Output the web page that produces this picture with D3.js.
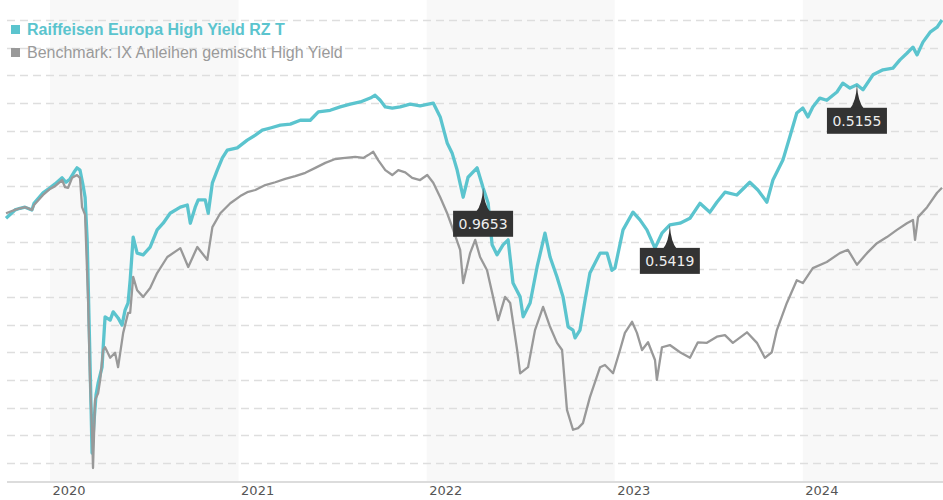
<!DOCTYPE html>
<html>
<head>
<meta charset="utf-8">
<script src="https://cdn.jsdelivr.net/npm/d3@7"></script>
<style>
  body { margin: 0; background: #fff; }
  svg { display: block; }
</style>
</head>
<body>
<div id="chart"></div>
<script>
// fund (Raiffeisen Europa High Yield RZ T), dates as decimal years, values indexed
var fundDates = [2019.766, 2019.814, 2019.841, 2019.867, 2019.904, 2019.915, 2019.963, 2020.000, 2020.027, 2020.064,
  2020.085, 2020.106, 2020.127, 2020.143, 2020.159, 2020.175, 2020.186, 2020.197, 2020.207, 2020.218,
  2020.223, 2020.234, 2020.244, 2020.255, 2020.276, 2020.282, 2020.292, 2020.319, 2020.335, 2020.361,
  2020.382, 2020.398, 2020.414, 2020.425, 2020.441, 2020.462, 2020.494, 2020.531, 2020.568, 2020.600,
  2020.637, 2020.691, 2020.728, 2020.744, 2020.770, 2020.786, 2020.823, 2020.839, 2020.861, 2020.887,
  2020.914, 2020.940, 2020.993, 2021.046, 2021.089, 2021.126, 2021.169, 2021.222, 2021.275, 2021.328,
  2021.381, 2021.424, 2021.487, 2021.540, 2021.594, 2021.647, 2021.700, 2021.726, 2021.753, 2021.780,
  2021.817, 2021.859, 2021.912, 2021.965, 2022.035, 2022.072, 2022.109, 2022.135, 2022.162, 2022.194,
  2022.220, 2022.268, 2022.300, 2022.327, 2022.348, 2022.374, 2022.406, 2022.433, 2022.459, 2022.497,
  2022.513, 2022.550, 2022.587, 2022.629, 2022.656, 2022.693, 2022.725, 2022.752, 2022.778, 2022.789,
  2022.815, 2022.842, 2022.868, 2022.922, 2022.959, 2022.985, 2023.001, 2023.044, 2023.097, 2023.134,
  2023.171, 2023.214, 2023.251, 2023.293, 2023.347, 2023.400, 2023.453, 2023.506, 2023.543, 2023.586,
  2023.649, 2023.718, 2023.761, 2023.809, 2023.841, 2023.894, 2023.931, 2023.968, 2024.000, 2024.027,
  2024.053, 2024.090, 2024.127, 2024.181, 2024.212, 2024.250, 2024.287, 2024.319, 2024.372, 2024.425,
  2024.478, 2024.515, 2024.552, 2024.584, 2024.606, 2024.637, 2024.675, 2024.712, 2024.738];
var fundValues = [99.2, 100.7, 101.0, 101.2, 100.7, 101.9, 103.8, 104.7, 105.4, 106.5,
  105.7, 106.3, 107.5, 108.3, 107.9, 105.2, 103.0, 95.3, 80.8, 64.6,
  56.8, 62.8, 67.3, 69.4, 72.3, 75.9, 81.4, 80.8, 82.3, 81.2,
  79.9, 82.6, 83.9, 88.0, 95.8, 92.9, 92.6, 94.0, 97.1, 98.3,
  100.1, 101.2, 101.6, 98.3, 101.2, 102.5, 102.5, 100.1, 105.6, 107.9,
  110.1, 111.5, 111.9, 113.3, 114.2, 115.1, 115.5, 116.0, 116.2, 116.9,
  116.9, 118.4, 118.7, 119.3, 119.8, 120.2, 120.9, 121.4, 120.5, 119.3,
  119.1, 119.3, 119.8, 119.5, 120.0, 117.5, 112.8, 111.0, 107.9, 103.0,
  106.6, 108.3, 104.7, 101.9, 94.4, 92.6, 94.4, 95.3, 87.5, 85.0,
  81.4, 83.9, 90.4, 96.5, 92.2, 88.6, 85.0, 79.6, 79.0, 77.6,
  79.0, 84.4, 89.3, 92.9, 92.9, 89.8, 90.2, 97.1, 100.3, 98.9,
  97.1, 93.8, 96.5, 98.0, 98.3, 99.2, 101.9, 100.3, 102.1, 103.9,
  103.4, 105.7, 104.3, 102.1, 106.1, 109.7, 113.9, 118.2, 119.1, 117.5,
  119.3, 120.9, 120.5, 122.0, 123.6, 122.7, 123.3, 122.4, 125.1, 126.0,
  126.3, 127.8, 129.0, 130.1, 128.7, 131.0, 132.8, 133.7, 135.0];

// benchmark (IX Anleihen gemischt High Yield)
var benchDates = [2019.766, 2019.814, 2019.841, 2019.867, 2019.904, 2019.915, 2019.963, 2020.000, 2020.027, 2020.064,
  2020.080, 2020.096, 2020.117, 2020.143, 2020.159, 2020.170, 2020.186, 2020.202, 2020.212, 2020.223,
  2020.228, 2020.239, 2020.255, 2020.266, 2020.282, 2020.292, 2020.319, 2020.345, 2020.361, 2020.388,
  2020.414, 2020.425, 2020.441, 2020.462, 2020.494, 2020.531, 2020.568, 2020.622, 2020.691, 2020.733,
  2020.781, 2020.834, 2020.861, 2020.903, 2020.956, 2021.009, 2021.046, 2021.089, 2021.142, 2021.195,
  2021.248, 2021.301, 2021.355, 2021.408, 2021.461, 2021.514, 2021.567, 2021.620, 2021.663, 2021.689,
  2021.716, 2021.742, 2021.780, 2021.817, 2021.849, 2021.886, 2021.923, 2021.965, 2022.003, 2022.035,
  2022.072, 2022.109, 2022.141, 2022.178, 2022.194, 2022.231, 2022.258, 2022.284, 2022.321, 2022.353,
  2022.380, 2022.417, 2022.444, 2022.481, 2022.497, 2022.539, 2022.576, 2022.619, 2022.656, 2022.693,
  2022.720, 2022.746, 2022.778, 2022.805, 2022.831, 2022.868, 2022.922, 2022.948, 2022.991, 2023.028,
  2023.054, 2023.092, 2023.118, 2023.145, 2023.177, 2023.214, 2023.224, 2023.251, 2023.293, 2023.347,
  2023.400, 2023.442, 2023.490, 2023.543, 2023.586, 2023.628, 2023.703, 2023.756, 2023.798, 2023.835,
  2023.862, 2023.915, 2023.968, 2024.000, 2024.053, 2024.127, 2024.196, 2024.239, 2024.287, 2024.340,
  2024.393, 2024.446, 2024.499, 2024.552, 2024.584, 2024.595, 2024.611, 2024.659, 2024.712, 2024.738];
var benchValues = [100.1, 100.7, 101.0, 101.2, 100.7, 101.6, 103.4, 104.5, 105.0, 106.1,
  104.8, 104.7, 106.5, 107.0, 106.5, 101.2, 99.8, 84.4, 70.0, 60.4,
  54.1, 66.4, 67.6, 70.0, 75.4, 75.9, 74.0, 74.9, 72.3, 78.5,
  82.1, 82.1, 88.6, 86.2, 85.0, 86.6, 89.3, 92.2, 93.8, 90.4,
  94.0, 91.7, 97.6, 100.1, 101.9, 103.2, 103.9, 104.3, 105.2, 105.7,
  106.3, 106.8, 107.4, 108.3, 109.2, 109.9, 110.1, 110.3, 110.1, 110.6,
  111.2, 109.7, 107.9, 107.0, 107.9, 107.5, 106.5, 106.1, 107.0, 105.6,
  103.0, 100.1, 97.1, 93.5, 87.5, 92.9, 95.3, 92.2, 89.8, 85.0,
  80.8, 85.0, 83.9, 75.4, 71.2, 72.3, 79.0, 83.2, 79.6, 76.7,
  75.4, 64.6, 61.0, 61.3, 62.2, 66.9, 72.3, 72.7, 71.2, 75.4,
  78.5, 80.5, 78.5, 75.4, 76.8, 73.6, 70.0, 75.9, 76.3, 75.0,
  74.0, 76.8, 76.7, 77.8, 78.1, 76.7, 78.6, 76.7, 74.0, 75.0,
  79.0, 83.9, 88.0, 87.5, 90.2, 91.3, 92.9, 93.5, 90.8, 92.9,
  94.7, 95.8, 97.1, 98.3, 98.9, 95.3, 99.4, 101.2, 103.8, 104.7];

// distributions marked on the fund line
var payoutDates = [2022.300, 2023.293, 2024.287];
var payoutLabels = ['0.9653', '0.5419', '0.5155'];

var tickYears = [2020, 2021, 2022, 2023, 2024]; // x-axis labels
var shadedYears = [2020, 2022, 2024]; // alternating background bands
var seriesNames = ['Raiffeisen Europa High Yield RZ T', 'Benchmark: IX Anleihen gemischt High Yield'];

var w = 943, h = 500;
var plot = { left: 6, right: 942, top: 20, bottom: 463, axis: 482 };
var tealColor = '#5bc4ce', greyColor = '#999999';

// decimal year -> Date
function toDate(y) {
  var yr = Math.floor(y);
  var a = Date.UTC(yr, 0, 1), b = Date.UTC(yr + 1, 0, 1);
  return new Date(a + (y - yr) * (b - a));
}

var fund = fundDates.map(function (d, i) { return { date: toDate(d), value: fundValues[i] }; });
var bench = benchDates.map(function (d, i) { return { date: toDate(d), value: benchValues[i] }; });

var svg = d3.select('#chart')
  .append('svg')
  .attr('width', w)
  .attr('height', h);

var x = d3.scaleUtc()
  .domain([fund[0].date, fund[fund.length - 1].date])
  .range([plot.left, plot.right]);

var y = d3.scaleLinear()
  .domain([55, 135])
  .range([plot.bottom, plot.top]);

// shaded year bands
svg.append('g')
  .selectAll('rect')
  .data(shadedYears)
  .enter().append('rect')
  .attr('x', function (d) { return x(new Date(Date.UTC(d, 0, 1))); })
  .attr('y', 0)
  .attr('width', function (d) {
    var end = Math.min(x(new Date(Date.UTC(d + 1, 0, 1))), w);
    return end - x(new Date(Date.UTC(d, 0, 1)));
  })
  .attr('height', plot.axis)
  .attr('fill', '#f8f8f8');

// dashed grid
svg.append('g')
  .selectAll('line')
  .data(y.ticks(16))
  .enter().append('line')
  .attr('x1', plot.left + 1)
  .attr('x2', w)
  .attr('y1', function (d) { return Math.round(y(d)) + 0.5; })
  .attr('y2', function (d) { return Math.round(y(d)) + 0.5; })
  .attr('stroke', '#dedede')
  .attr('stroke-width', 1.3)
  .attr('stroke-dasharray', '8,5');

// x axis
var xAxis = d3.axisBottom(x)
  .tickValues(tickYears.map(function (d) { return new Date(Date.UTC(d, 0, 1)); }))
  .tickFormat(d3.utcFormat('%Y'))
  .tickSize(0)
  .tickPadding(4);

var gx = svg.append('g')
  .attr('transform', 'translate(0,' + plot.axis + ')')
  .call(xAxis);
gx.select('.domain')
  .attr('d', 'M' + (plot.left + 1) + ',0H' + w)
  .attr('stroke', '#dcdcdc')
  .attr('stroke-width', 2);
gx.selectAll('text')
  .attr('text-anchor', 'start')
  .attr('dx', 2)
  .attr('fill', '#555')
  .style('font-family', '"DejaVu Sans", sans-serif')
  .style('font-size', '13px');

// lines
var line = d3.line()
  .x(function (d) { return x(d.date); })
  .y(function (d) { return y(d.value); });

svg.append('path')
  .datum(fund)
  .attr('d', line)
  .attr('fill', 'none')
  .attr('stroke', tealColor)
  .attr('stroke-width', 3.3)
  .attr('stroke-linejoin', 'round');

svg.append('path')
  .datum(bench)
  .attr('d', line)
  .attr('fill', 'none')
  .attr('stroke', greyColor)
  .attr('stroke-width', 2.3)
  .attr('stroke-linejoin', 'round');

// payout markers
var bisect = d3.bisector(function (d) { return d.date; }).left;
function fundAt(date) {
  var i = bisect(fund, date);
  if (i <= 0) return fund[0].value;
  if (i >= fund.length) return fund[fund.length - 1].value;
  var a = fund[i - 1], b = fund[i];
  var t = (date - a.date) / (b.date - a.date);
  return a.value + t * (b.value - a.value);
}

var marks = svg.append('g')
  .selectAll('g')
  .data(payoutDates)
  .enter().append('g')
  .attr('transform', function (d) {
    var dt = toDate(d);
    return 'translate(' + x(dt) + ',' + y(fundAt(dt)) + ')';
  });

marks.append('path')
  .attr('d', 'M0,0 Q1,17 7,24 L-7,24 Q-1,17 0,0 Z')
  .attr('fill', '#333');
marks.append('rect')
  .attr('x', -30)
  .attr('y', 23)
  .attr('width', 60)
  .attr('height', 26)
  .attr('fill', '#333');
marks.append('text')
  .attr('x', 0)
  .attr('y', 41)
  .attr('text-anchor', 'middle')
  .attr('fill', '#eee')
  .style('font-family', '"DejaVu Sans", sans-serif')
  .style('font-size', '14px')
  .text(function (d, i) { return payoutLabels[i]; });

// legend
var legend = svg.append('g')
  .selectAll('g')
  .data(seriesNames)
  .enter().append('g')
  .attr('transform', function (d, i) { return 'translate(0,' + (35 + i * 23) + ')'; });

legend.append('rect')
  .attr('x', 11)
  .attr('y', -10)
  .attr('width', 9)
  .attr('height', 9)
  .attr('fill', function (d, i) { return i === 0 ? tealColor : greyColor; });

legend.append('text')
  .attr('x', 27)
  .attr('y', 0)
  .attr('fill', function (d, i) { return i === 0 ? tealColor : '#9a9a9a'; })
  .style('font-family', '"Liberation Sans", Arial, sans-serif')
  .style('font-size', '16px')
  .style('font-weight', function (d, i) { return i === 0 ? 'bold' : 'normal'; })
  .text(function (d) { return d; });
</script>
</body>
</html>
